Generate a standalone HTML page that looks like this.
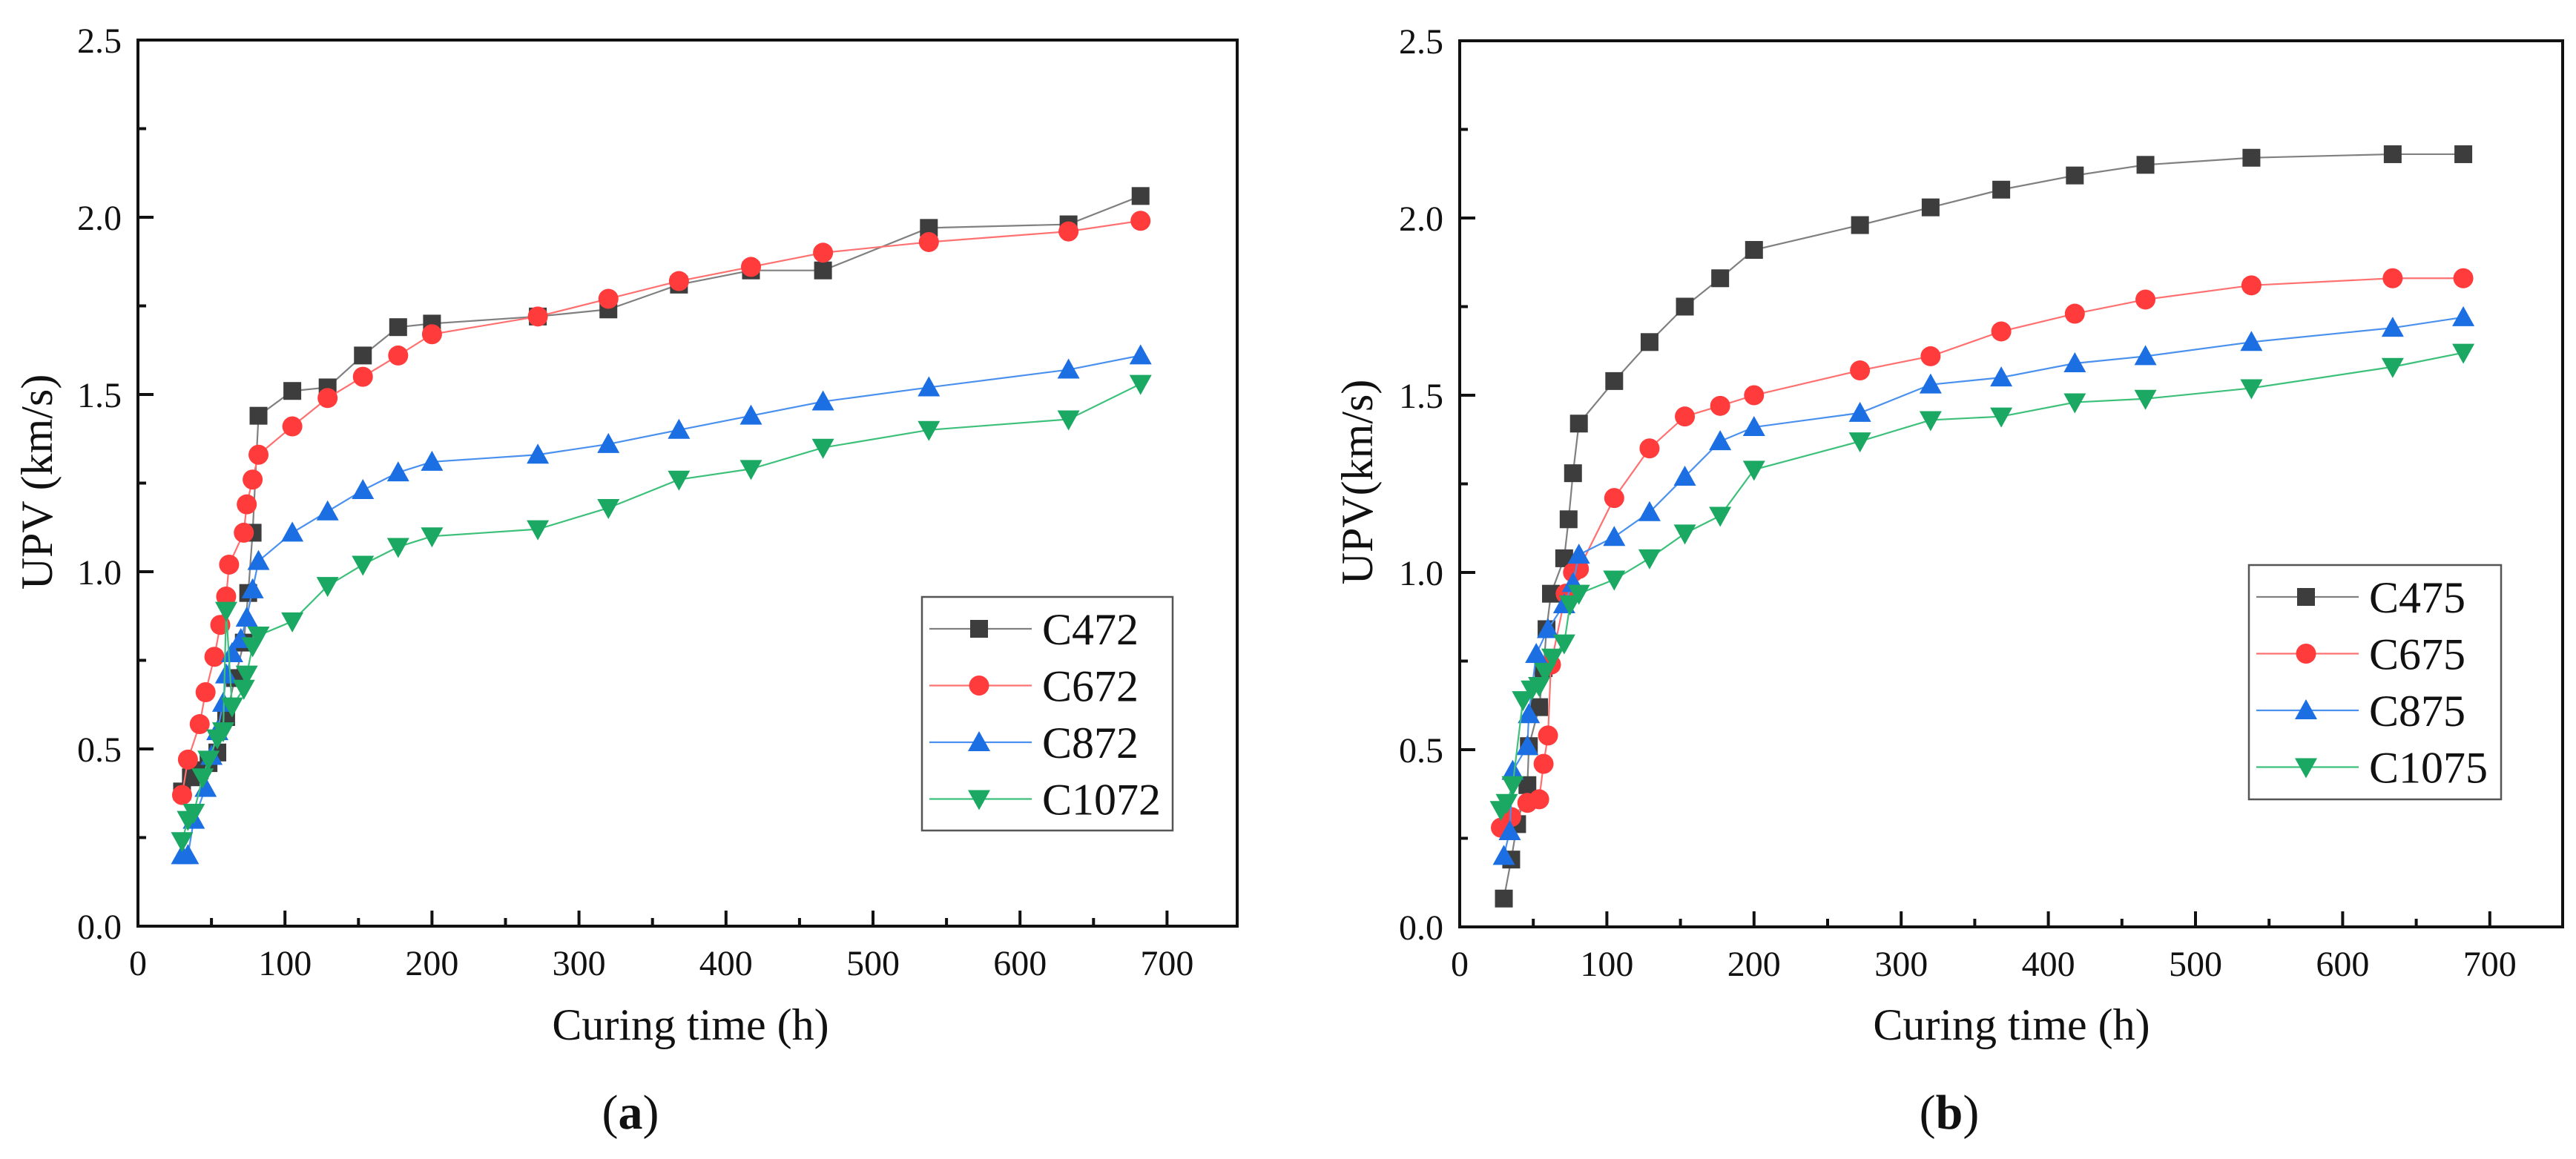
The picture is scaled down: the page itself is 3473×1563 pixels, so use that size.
<!DOCTYPE html>
<html><head><meta charset="utf-8"><style>
html,body{margin:0;padding:0;background:#fff}
svg{display:block;font-family:"Liberation Serif","Times New Roman",serif}
svg text{font-family:"Liberation Serif","Times New Roman",serif;fill:#111}
</style></head><body>
<svg id="c" width="3473" height="1563" viewBox="0 0 3473 1563" xmlns="http://www.w3.org/2000/svg" font-family="Liberation Serif, serif"></svg>
<script>
const xTicks=[0,100,200,300,400,500,600,700];
const yTicks=[0.0,0.5,1.0,1.5,2.0,2.5];
// Panel (a)
const aNames=["C472","C672","C872","C1072"];
const aC472x=[30,36,42,48,54,60,66,72,75,78,82,105,129,153,177,200,272,320,368,417,466,538,633,682];
const aC472y=[0.38,0.42,0.44,0.46,0.49,0.59,0.70,0.80,0.94,1.11,1.44,1.51,1.52,1.61,1.69,1.70,1.72,1.74,1.81,1.85,1.85,1.97,1.98,2.06];
const aC672x=[30,34,42,46,52,56,60,62,72,74,78,82,105,129,153,177,200,272,320,368,417,466,538,633,682];
const aC672y=[0.37,0.47,0.57,0.66,0.76,0.85,0.93,1.02,1.11,1.19,1.26,1.33,1.41,1.49,1.55,1.61,1.67,1.72,1.77,1.82,1.86,1.90,1.93,1.96,1.99];
const aC872x=[30,34,38,46,50,54,58,60,64,70,74,78,82,105,129,153,177,200,272,320,368,417,466,538,633,682];
const aC872y=[0.20,0.20,0.30,0.39,0.48,0.55,0.63,0.71,0.77,0.81,0.87,0.95,1.03,1.11,1.17,1.23,1.28,1.31,1.33,1.36,1.40,1.44,1.48,1.52,1.57,1.61];
const aC1072x=[30,34,38,44,48,54,58,60,64,72,74,78,82,105,129,153,177,200,272,320,368,417,466,538,633,682];
const aC1072y=[0.24,0.30,0.32,0.42,0.47,0.53,0.55,0.89,0.62,0.67,0.71,0.79,0.82,0.86,0.96,1.02,1.07,1.10,1.12,1.18,1.26,1.29,1.35,1.40,1.43,1.53];
// Panel (b)
const bNames=["C475","C675","C875","C1075"];
const bC475x=[30,35,39,46,47,54,57,59,62,71,74,77,81,105,129,153,177,200,272,320,368,418,466,538,634,682];
const bC475y=[0.08,0.19,0.29,0.40,0.51,0.62,0.73,0.84,0.94,1.04,1.15,1.28,1.42,1.54,1.65,1.75,1.83,1.91,1.98,2.03,2.08,2.12,2.15,2.17,2.18,2.18];
const bC675x=[28,35,46,54,57,60,62,72,77,81,105,129,153,177,200,272,320,368,418,466,538,634,682];
const bC675y=[0.28,0.31,0.35,0.36,0.46,0.54,0.74,0.94,1.00,1.01,1.21,1.35,1.44,1.47,1.50,1.57,1.61,1.68,1.73,1.77,1.81,1.83,1.83];
const bC875x=[30,34,36,46,47,52,60,71,77,81,105,129,153,177,200,272,320,368,418,466,538,634,682];
const bC875y=[0.20,0.27,0.44,0.51,0.60,0.77,0.84,0.91,0.97,1.05,1.10,1.17,1.27,1.37,1.41,1.45,1.53,1.55,1.59,1.61,1.65,1.69,1.72];
const bC1075x=[28,32,36,43,49,54,58,63,71,75,81,105,129,153,177,200,272,320,368,418,466,538,634,682];
const bC1075y=[0.33,0.35,0.40,0.64,0.67,0.68,0.72,0.76,0.80,0.91,0.94,0.98,1.04,1.11,1.16,1.29,1.37,1.43,1.44,1.48,1.49,1.52,1.58,1.62];

const NS="http://www.w3.org/2000/svg";
const svg=document.getElementById('c');
function mk(tag,attrs,parent){const e=document.createElementNS(NS,tag);for(const k in attrs)e.setAttribute(k,attrs[k]);(parent||svg).appendChild(e);return e;}
const colors=["#3d3d3d","#ff3b3b","#1c6fe3","#1aa862"];
const lineCols=["#808080","#ff7070","#4a90ee","#3cc07a"];
const shapes=["square","circle","up","down"];
const FF="Liberation Serif, Times New Roman, serif";

function marker(g,shape,cx,cy,col){
  let e;
  if(shape==="square"){e=mk('rect',{x:cx-12,y:cy-12,width:24,height:24,fill:col},g);}
  else if(shape==="circle"){e=mk('circle',{cx:cx,cy:cy,r:13.5,fill:col},g);}
  else if(shape==="up"){e=mk('polygon',{points:`${cx},${cy-15} ${cx-15},${cy+12} ${cx+15},${cy+12}`,fill:col},g);}
  else {e=mk('polygon',{points:`${cx},${cy+15} ${cx-15},${cy-12} ${cx+15},${cy-12}`,fill:col},g);}
  return e;
}

function panel(P){
  const g=mk('g',{});
  
  
  const X=v=>P.L+v*P.sx, Y=v=>P.B-(v/2.5)*(P.B-P.T);
  P.series.forEach((s,i)=>{
    const sg=mk('g',{},g);
    
    
    const pts=s.x.map((v,j)=>X(v)+','+Y(s.y[j])).join(' ');
    mk('polyline',{points:pts,fill:'none',stroke:lineCols[i],'stroke-width':2.2},sg);
    s.x.forEach((v,j)=>{
      const m=marker(sg,shapes[i],X(v),Y(s.y[j]),colors[i]);
      
      
    });
  });
  const fr=mk('rect',{x:P.L,y:P.T,width:P.R-P.L,height:P.B-P.T,fill:'none',stroke:'#111','stroke-width':4},g);
  
  
  xTicks.forEach(v=>{
    mk('line',{x1:X(v),x2:X(v),y1:P.B,y2:P.B-21,stroke:'#111','stroke-width':4},g);
    if(v<700) mk('line',{x1:X(v+50),x2:X(v+50),y1:P.B,y2:P.B-11,stroke:'#111','stroke-width':4},g);
    const t=mk('text',{x:X(v),y:P.B+66,'text-anchor':'middle','font-size':48,'font-family':FF},g);
    t.textContent=String(v);
    
    
  });
  yTicks.forEach(v=>{
    mk('line',{x1:P.L,x2:P.L+21,y1:Y(v),y2:Y(v),stroke:'#111','stroke-width':4},g);
    if(v<2.5) mk('line',{x1:P.L,x2:P.L+11,y1:Y(v+0.25),y2:Y(v+0.25),stroke:'#111','stroke-width':4},g);
    const t=mk('text',{x:P.L-22,y:Y(v)+17,'text-anchor':'end','font-size':48,'font-family':FF},g);
    t.textContent=v.toFixed(1);
    
    
  });
  const xt=mk('text',{x:P.xtx,y:1402,'text-anchor':'middle','font-size':60,'font-family':FF},g);
  xt.textContent='Curing time (h)';
  
  
  const yt=mk('text',{x:0,y:0,'text-anchor':'middle','font-size':60,'font-family':FF,transform:`translate(${P.ytx},${650}) rotate(-90)`},g);
  yt.textContent=P.ylabel;
  
  
  const cap=mk('text',{x:P.capx,y:1522,'text-anchor':'middle','font-size':66,'font-family':FF},g);
  cap.innerHTML='(<tspan font-weight="bold">'+P.cap+'</tspan>)';
  
  
  const lg=mk('g',{},g);
  
  
  mk('rect',{x:P.lg.x,y:P.lg.y,width:P.lg.w,height:P.lg.h,fill:'#fff',stroke:'#555','stroke-width':2.5},lg);
  P.series.forEach((s,i)=>{
    const ey=P.lg.y+43+i*76.5;
    const eg=mk('g',{},lg);
    
    
    mk('line',{x1:P.lg.x+10,x2:P.lg.x+148,y1:ey,y2:ey,stroke:lineCols[i],'stroke-width':2.2},eg);
    marker(eg,shapes[i],P.lg.x+77,ey,colors[i]);
    const t=mk('text',{x:P.lg.x+162,y:ey+21,'font-size':60,'font-family':FF},eg);
    t.textContent=s.name;
  });
}
panel({id:'panel-a',L:186,R:1668,T:54,B:1249,sx:1.982,xtx:931,ytx:70,ylabel:'UPV (km/s)',capx:850,cap:'a',
  lg:{x:1243,y:805,w:338,h:315},
  series:[{name:aNames[0],x:aC472x,y:aC472y},{name:aNames[1],x:aC672x,y:aC672y},{name:aNames[2],x:aC872x,y:aC872y},{name:aNames[3],x:aC1072x,y:aC1072y}]});
panel({id:'panel-b',L:1968,R:3455,T:55,B:1250,sx:1.984,xtx:2712,ytx:1850,ylabel:'UPV(km/s)',capx:2628,cap:'b',
  lg:{x:3032,y:762,w:340,h:316},
  series:[{name:bNames[0],x:bC475x,y:bC475y},{name:bNames[1],x:bC675x,y:bC675y},{name:bNames[2],x:bC875x,y:bC875y},{name:bNames[3],x:bC1075x,y:bC1075y}]});
</script>
</body></html>
